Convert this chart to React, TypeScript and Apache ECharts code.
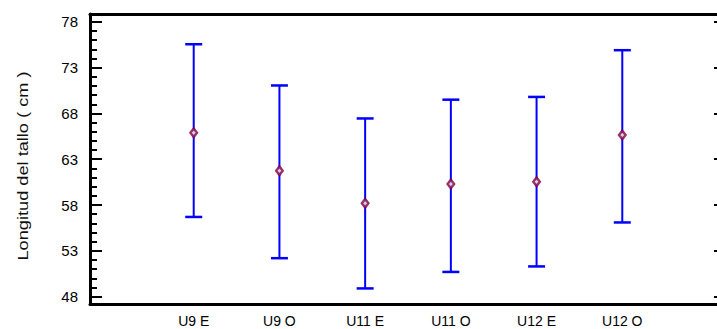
import React, { useEffect, useRef } from "react";
import * as echarts from "echarts";

const categories = ["U9 E", "U9 O", "U11 E", "U11 O", "U12 E", "U12 O"];
const means = [65.9, 61.75, 58.2, 60.3, 60.55, 65.65];
const lows = [56.7, 52.2, 48.9, 50.7, 51.3, 56.1];
const highs = [75.55, 71.05, 67.45, 69.5, 69.8, 74.9];
const majorTicks = [48, 53, 58, 63, 68, 73, 78];
const minorTicks = Array.from({ length: 31 }, (_, i) => 48 + i);
const yTitle = "Longitud del tallo ( cm )";

const labelFont = "'Liberation Sans', Arial, sans-serif";

export default function App() {
  const ref = useRef<HTMLDivElement>(null);
  useEffect(() => {
    document.body.style.margin = "0";
    const chart = echarts.init(ref.current!, null, { renderer: "svg" });
    const xMin = -1.21;
    const xMax = 6.14;
    const yMin = 47.2;
    const yMax = 78.85;
    const idx = categories.map((_, i) => i);
    chart.setOption({
      animation: false,
      backgroundColor: "#fff",
      grid: { left: 90, top: 14, bottom: 25, right: -3, containLabel: false, outerBoundsMode: "none" },
      xAxis: [
        {
          type: "value",
          position: "bottom",
          min: xMin,
          max: xMax,
          splitLine: { show: false },
          axisTick: { show: false },
          axisLine: { show: true, onZero: false, lineStyle: { color: "#000", width: 3 } },
          axisLabel: {
            customValues: idx,
            formatter: (v: number) => categories[Math.round(v)] ?? "",
            color: "#000",
            fontSize: 14,
            fontFamily: labelFont,
            margin: 10,
          },
        },
        {
          type: "value",
          position: "top",
          min: xMin,
          max: xMax,
          splitLine: { show: false },
          axisTick: { show: false },
          axisLabel: { show: false },
          axisLine: { show: true, onZero: false, lineStyle: { color: "#000", width: 3 } },
        },
      ],
      yAxis: [
        {
          type: "value",
          position: "left",
          min: yMin,
          max: yMax,
          splitLine: { show: false },
          axisLine: { show: true, onZero: false, lineStyle: { color: "#000", width: 3 } },
          axisTick: {
            show: true,
            inside: true,
            length: 12,
            customValues: majorTicks,
            lineStyle: { color: "#000", width: 2 },
          },
          axisLabel: {
            customValues: majorTicks,
            color: "#000",
            fontSize: 15,
            fontFamily: labelFont,
            margin: 12,
          },
        },
        {
          type: "value",
          position: "left",
          min: yMin,
          max: yMax,
          splitLine: { show: false },
          axisLine: { show: false, onZero: false },
          axisTick: {
            show: true,
            inside: true,
            length: 7,
            customValues: minorTicks,
            lineStyle: { color: "#000", width: 2 },
          },
          axisLabel: { show: false },
        },
        {
          type: "value",
          position: "right",
          min: yMin,
          max: yMax,
          splitLine: { show: false },
          axisLine: { show: false, onZero: false },
          axisTick: {
            show: true,
            inside: true,
            length: 6,
            customValues: majorTicks,
            lineStyle: { color: "#000", width: 2 },
          },
          axisLabel: { show: false },
        },
      ],
      graphic: [
        {
          type: "text",
          x: 23,
          y: 166,
          rotation: Math.PI / 2,
          scaleX: 1.3,
          style: {
            text: yTitle,
            fontSize: 14,
            fontFamily: "'Liberation Sans', Arial, sans-serif",
            fill: "#111",
            align: "center",
            verticalAlign: "middle",
          },
        },
      ],
      series: [
        {
          type: "custom",
          xAxisIndex: 0,
          yAxisIndex: 0,
          data: idx.map((i) => [i, lows[i], highs[i]]),
          encode: { x: 0, y: [1, 2] },
          renderItem: (params: any, api: any) => {
            const x = api.value(0);
            const lo = api.coord([x, api.value(1)]);
            const hi = api.coord([x, api.value(2)]);
            const hw = 8.5;
            const style = { stroke: "#0000ff", lineWidth: 2 };
            return {
              type: "group",
              children: [
                { type: "line", shape: { x1: lo[0], y1: lo[1], x2: hi[0], y2: hi[1] }, style },
                { type: "line", shape: { x1: hi[0] - hw, y1: hi[1], x2: hi[0] + hw, y2: hi[1] }, style: { stroke: "#0000ff", lineWidth: 2.5 } },
                { type: "line", shape: { x1: lo[0] - hw, y1: lo[1], x2: lo[0] + hw, y2: lo[1] }, style: { stroke: "#0000ff", lineWidth: 2.5 } },
              ],
            };
          },
          z: 2,
        },
        {
          type: "scatter",
          xAxisIndex: 0,
          yAxisIndex: 0,
          data: idx.map((i) => [i, means[i]]),
          symbol: "diamond",
          symbolSize: [6.5, 8.5],
          itemStyle: { color: "#ffffff", borderColor: "#800040", borderWidth: 2.5 },
          z: 3,
        },
      ],
    });
    return () => chart.dispose();
  }, []);
  return <div ref={ref} style={{ width: 717, height: 329 }} />;
}
